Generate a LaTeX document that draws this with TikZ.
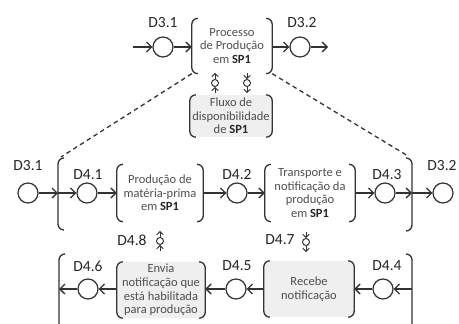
\documentclass[tikz,border=0pt]{standalone}
\usepackage{fontspec}
\setmainfont{Carlito}
\usetikzlibrary{arrows.meta}
\definecolor{lc}{HTML}{333333}
\definecolor{labc}{HTML}{262626}
\definecolor{txc}{HTML}{4F4F4F}
\definecolor{boxfill}{HTML}{EFEFEF}
\newcommand\spone{\textbf{\color{labc}SP1}}
% parenthesis-like sides of a process box
\newcommand\sidebrackets[1]{%
  \draw[brk] ([xshift=6pt]#1.north west) -- (#1.north west) -- (#1.south west) -- ([xshift=6pt]#1.south west);
  \draw[brk] ([xshift=-6pt]#1.north east) -- (#1.north east) -- (#1.south east) -- ([xshift=-6pt]#1.south east);}
% small event glyphs: flow upwards / downwards through a small circle
\newcommand\glyphup[3]{%
  \node[mini] (#1) at (#2,#3) {};
  \coordinate (#1b) at (#2,#3+10);
  \coordinate (#1t) at (#2,#3-10);
  \draw[miniflow] (#1b) -- (#1.south);
  \draw[miniflow] (#1.north) -- (#1t);}
\newcommand\glyphdown[3]{%
  \node[mini] (#1) at (#2,#3) {};
  \coordinate (#1b) at (#2,#3+10);
  \coordinate (#1t) at (#2,#3-10);
  \draw[miniflow] (#1t) -- (#1.north);
  \draw[miniflow] (#1.south) -- (#1b);}
\begin{document}
\begin{tikzpicture}[x=1pt,y=-1pt,
  ln/.style={line width=1.3pt, draw=lc},
  brk/.style={ln, rounded corners=6pt},
  flow/.style={ln, -{Straight Barb[length=5pt,width=10pt]}},
  miniflow/.style={line width=1pt, draw=lc, -{Straight Barb[length=3pt,width=6.5pt]}},
  evt/.style={circle, draw=lc, line width=1.2pt, fill=white, minimum size=20pt, inner sep=0pt},
  mini/.style={circle, draw=lc, line width=1pt, fill=white, minimum size=7pt, inner sep=0pt},
  lab/.style={font=\fontsize{15.5}{15.5}\selectfont, text=labc, inner sep=0pt},
  proc/.style={align=center, text=txc, inner sep=0pt, font=\fontsize{12.5}{13.6}\selectfont,
    minimum width=#1, minimum height=56pt, rounded corners=6pt},
  shaded/.style={fill=boxfill}]
\useasboundingbox (0,0) rectangle (459,324);
\clip (0,0) rectangle (459,324);

% ---------- upper level ----------
\coordinate (s0) at (133,47);
\node[evt] (t31) at (163,47) {};
\node[lab] (t31l) at (163,23) {D3.1};
\node[proc=80pt, minimum height=55pt] (ptop) at (232,46) {Processo\\de Produção\\em \spone};
\node[evt] (t32) at (300,47) {};
\node[lab] (t32l) at (302,23) {D3.2};
\coordinate (e0) at (328,47);
\sidebrackets{ptop}
\draw[flow] (s0) -- (t31);
\draw[flow] (t31) -- (ptop.west |- t31);
\draw[flow] (ptop.east |- t32) -- (t32);
\draw[flow] (t32) -- (e0);

\node[proc=82pt, minimum height=42pt, shaded] (fluxo) at (231,116) {Fluxo de\\disponibilidade\\de \spone};
\sidebrackets{fluxo}
\glyphup{gu}{215}{83}
\glyphdown{gd}{247}{83}

% ---------- decomposition brackets ----------
\coordinate (Lt) at (58,158);
\coordinate (Lb) at (58,230);
\coordinate (Rt) at (412,158);
\coordinate (Rb) at (412,231);
\draw[brk] ([xshift=6pt]Lt) -- (Lt) -- (Lb) -- ([xshift=6pt]Lb);
\draw[brk] ([xshift=-6pt]Rt) -- (Rt) -- (Rb) -- ([xshift=-6pt]Rb);
\coordinate (LLt) at (59,254);
\coordinate (LLb) at (59,340);
\coordinate (RLt) at (412,254);
\coordinate (RLb) at (412,340);
\draw[brk] ([xshift=6pt]LLt) -- (LLt) -- (LLb);
\draw[brk] ([xshift=-6pt]RLt) -- (RLt) -- (RLb);

\coordinate (dl) at (61,157);
\coordinate (dr) at (408,156);
\draw[ln, dash pattern=on 4.5pt off 3.5pt] (ptop.south west) -- (dl);
\draw[ln, dash pattern=on 4.5pt off 3.5pt] (ptop.south east) -- (dr);

% ---------- main row ----------
\node[evt] (c31) at (28,193) {};
\node[lab] (c31l) at (28,166) {D3.1};
\coordinate (Lm) at (58,193);
\node[evt] (c41) at (87,193) {};
\node[lab] (c41l) at (88,175) {D4.1};
\node[proc=86pt, minimum height=57pt] (b1) at (160,193) {Produção de\\matéria-prima\\em \spone};
\sidebrackets{b1}
\node[evt] (c42) at (237,193) {};
\node[lab] (c42l) at (237,175) {D4.2};
\node[proc=90pt, minimum height=57pt] (b2) at (310,193) {Transporte e\\notificação da\\produção\\em \spone};
\sidebrackets{b2}
\node[evt] (c43) at (385,193) {};
\node[lab] (c43l) at (387,175) {D4.3};
\coordinate (Rm) at (412,193);
\node[evt] (c32) at (443,193) {};
\node[lab] (c32l) at (442,166) {D3.2};

\draw[flow] (c31) -- (Lm);
\draw[flow] (Lm) -- (c41);
\draw[flow] (c41) -- (b1.west |- c41);
\draw[flow] (b1.east |- c42) -- (c42);
\draw[flow] (c42) -- (b2.west |- c42);
\draw[flow] (b2.east |- c43) -- (c43);
\draw[flow] (c43) -- (Rm);
\draw[flow] (Rm) -- (c32);

% ---------- feedback events ----------
\glyphup{g48}{160}{241}
\node[lab] (l48) at (132,240) {D4.8};
\glyphdown{g47}{306}{242}
\node[lab] (l47) at (280,240) {D4.7};

% ---------- lower row ----------
\coordinate (LLm) at (59,289);
\node[evt] (c46) at (88,289) {};
\node[lab] (c46l) at (88,266) {D4.6};
\node[proc=88pt, shaded] (b3) at (161,290) {Envia\\notificação que\\está habilitada\\para produção};
\sidebrackets{b3}
\node[evt] (c45) at (236,289) {};
\node[lab] (c45l) at (237,266) {D4.5};
\node[proc=90pt, shaded] (b4) at (309,289) {Recebe\\notificação};
\sidebrackets{b4}
\node[evt] (c44) at (383,289) {};
\node[lab] (c44l) at (387,266) {D4.4};
\coordinate (RLm) at (412,289);

\draw[flow] (RLm) -- (c44);
\draw[flow] (c44) -- (b4.east |- c44);
\draw[flow] (b4.west |- c45) -- (c45);
\draw[flow] (c45) -- (b3.east |- c45);
\draw[flow] (b3.west |- c46) -- (c46);
\draw[flow] (c46) -- (LLm);
\end{tikzpicture}
\end{document}
